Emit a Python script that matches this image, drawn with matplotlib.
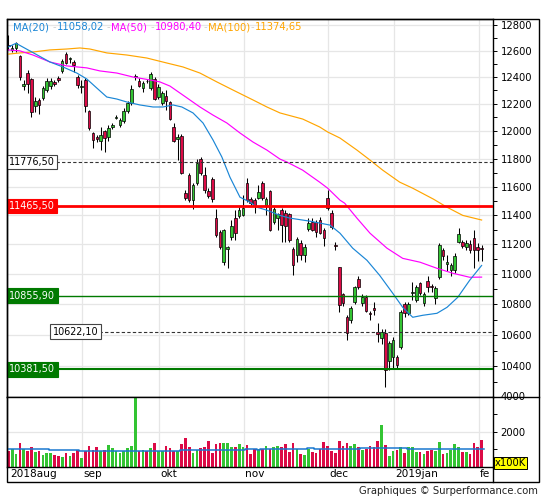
import matplotlib
matplotlib.use("Agg")
import matplotlib.pyplot as plt
import pandas as pd
from matplotlib.ticker import FixedLocator, NullFormatter, FuncFormatter
from matplotlib.transforms import Bbox, TransformedBbox, blended_transform_factory
from matplotlib.lines import Line2D
from matplotlib.patches import Rectangle

# daily candles, index 0 = 2018-08-07
opens = [12645, 12610, 12620, 12561, 12335, 12431, 12386, 12184, 12229, 12244,
         12303, 12333, 12360, 12390, 12447, 12575, 12538, 12515, 12401, 12325,
         12379, 12147, 11986, 11955, 11927, 12000, 11956, 12030, 12095, 12044,
         12074, 12147, 12207, 12400, 12371, 12318, 12371, 12318, 12386, 12251,
         12207, 12259, 12214, 12030, 11945, 11964, 11555, 11682, 11506, 11626,
         11797, 11682, 11569, 11654, 11381, 11284, 11080, 11168, 11250, 11381,
         11395, 11400, 11626, 11513, 11506, 11520, 11626, 11471, 11570, 11353,
         11381, 11436, 11415, 11409, 11168, 11127, 11209, 11127, 11305, 11353,
         11353, 11367, 11298, 11520, 11415, 11195, 11046, 10866, 10715, 10695,
         10813, 10966, 10807, 10846, 10741, 10774, 10617, 10579, 10611, 10437,
         10457, 10457, 10521, 10800, 10741, 10873, 10826, 10939, 10807, 10952,
         10919, 10840, 10979, 11161, 11066, 11026, 11026, 11215, 11215, 11181,
         11202, 11243, 11181, 11175]
highs = [12722, 12645, 12670, 12570, 12375, 12455, 12395, 12251, 12240, 12330,
         12395, 12390, 12379, 12410, 12535, 12591, 12555, 12530, 12416, 12379,
         12395, 12155, 11993, 11970, 12030, 12010, 12044, 12060, 12120, 12095,
         12170, 12225, 12341, 12424, 12390, 12371, 12386, 12440, 12400, 12345,
         12295, 12303, 12220, 12058, 11978, 11975, 11576, 11700, 11626, 11800,
         11810, 11740, 11590, 11670, 11443, 11300, 11305, 11190, 11367, 11436,
         11457, 11540, 11660, 11530, 11520, 11610, 11640, 11527, 11580, 11460,
         11420, 11450, 11436, 11420, 11181, 11250, 11230, 11200, 11380, 11380,
         11370, 11390, 11310, 11576, 11436, 11215, 11050, 10873, 10730, 10790,
         10920, 10990, 10870, 10860, 10754, 10813, 10676, 10640, 10640, 10560,
         10590, 10475, 10760, 10813, 10813, 10946, 10930, 10950, 10880, 10990,
         10935, 10920, 11210, 11175, 11130, 11075, 11140, 11312, 11230, 11230,
         11230, 11298, 11209, 11195]
lows = [12610, 12591, 12590, 12379, 12300, 12281, 12103, 12140, 12125, 12230,
        12290, 12310, 12330, 12360, 12431, 12500, 12507, 12440, 12318, 12281,
        12140, 12007, 11876, 11920, 11862, 11847, 11930, 12015, 12085, 12030,
        12060, 12130, 12192, 12379, 12325, 12290, 12355, 12303, 12229, 12236,
        12192, 12155, 12080, 11920, 11790, 11690, 11506, 11495, 11443, 11610,
        11682, 11555, 11520, 11495, 11250, 11168, 11059, 11039, 11229, 11230,
        11380, 11395, 11495, 11470, 11415, 11513, 11506, 11400, 11290, 11340,
        11298, 11215, 11215, 11215, 10992, 11080, 11093, 11080, 11290, 11290,
        11250, 11270, 11188, 11436, 11305, 11161, 10748, 10790, 10566, 10680,
        10800, 10900, 10790, 10748, 10695, 10728, 10553, 10540, 10268, 10380,
        10390, 10390, 10510, 10720, 10728, 10826, 10813, 10860, 10790, 10880,
        10880, 10800, 10966, 11093, 11020, 10990, 11010, 11209, 11175, 11160,
        11140, 11039, 11090, 11090]
closes = [12637, 12618, 12660, 12401, 12345, 12348, 12140, 12221, 12195, 12318,
          12371, 12371, 12350, 12380, 12522, 12507, 12545, 12490, 12341, 12335,
          12185, 12022, 11935, 11945, 11971, 11950, 12022, 12044, 12103, 12081,
          12147, 12207, 12311, 12405, 12333, 12355, 12368, 12424, 12236, 12325,
          12281, 12221, 12088, 11927, 11960, 11696, 11520, 11506, 11610, 11768,
          11696, 11576, 11534, 11513, 11263, 11181, 11298, 11181, 11326, 11277,
          11436, 11450, 11506, 11485, 11464, 11562, 11520, 11513, 11298, 11443,
          11409, 11333, 11326, 11229, 11059, 11236, 11127, 11181, 11346, 11298,
          11284, 11277, 11243, 11450, 11319, 11188, 10793, 10807, 10611, 10774,
          10912, 10912, 10846, 10754, 10735, 10760, 10605, 10617, 10374, 10547,
          10566, 10406, 10748, 10741, 10800, 10879, 10912, 10873, 10866, 10912,
          10912, 10906, 11195, 11120, 11080, 11059, 11120, 11270, 11188, 11209,
          11161, 11161, 11161, 11168]
volumes = [921, 1019, 745, 1333, 1019, 921, 1098, 862, 921, 647,
           764, 804, 686, 627, 568, 804, 627, 804, 960, 510,
           882, 1156, 941, 1098, 882, 980, 1215, 1039, 882, 764,
           882, 1039, 1156, 4000, 882, 980, 882, 1039, 1333, 921,
           882, 1156, 1039, 882, 882, 1274, 1627, 1098, 804, 941,
           1039, 1098, 1450, 804, 1274, 1333, 1333, 1333, 1098, 1098,
           1274, 1098, 1215, 745, 1019, 1019, 1019, 1156, 1019, 1098,
           1156, 1098, 1274, 862, 1333, 1019, 745, 686, 1019, 862,
           804, 1019, 1392, 1156, 921, 804, 1450, 1156, 1333, 1156,
           1274, 1098, 980, 1019, 1156, 1098, 1450, 2391, 1215, 627,
           921, 980, 1098, 804, 1098, 1098, 862, 862, 745, 921,
           980, 921, 1392, 745, 804, 980, 1274, 1098, 862, 862,
           745, 1333, 1098, 1509]

# moving averages (index, value)
ma20_idx = [0, 2, 6.5, 10.8, 14.2, 17.8, 20.4, 23, 25.6, 28.2, 30.8, 34.2, 37.6, 40.2,
            42.8, 45.1, 48, 50.6, 53.2, 55.5, 57.6, 60.2, 62.8, 64.6, 67.2, 70.6, 73.2,
            78.4, 83.6, 86.2, 89.5, 93.2, 96.5, 99.9, 102.5, 105.1, 107.7, 111.4, 114,
            116.8, 119.9, 123]
ma20_val = [12630, 12658, 12585, 12515, 12477, 12431, 12386, 12318, 12251, 12236, 12214,
            12192, 12177, 12177, 12192, 12177, 12133, 12059, 11935, 11812, 11668, 11527,
            11492, 11457, 11436, 11400, 11381, 11360, 11333, 11277, 11175, 11093, 10992,
            10873, 10780, 10715, 10728, 10741, 10780, 10846, 10959, 11058]
ma50_idx = [0, 3, 6.4, 10.8, 15.2, 20.4, 23.8, 28.2, 32.4, 36.8, 39.4, 42, 44.6, 47.2,
            49.8, 53.2, 56.8, 60.2, 63.6, 67.2, 70.6, 72.4, 76.5, 80.9, 83, 86.2, 87.4,
            90.6, 94, 98.4, 102.5, 107, 111.4, 115.5, 119.9, 123]
ma50_val = [12607, 12600, 12568, 12515, 12485, 12470, 12447, 12431, 12401, 12379, 12364,
            12333, 12281, 12229, 12177, 12117, 12059, 11986, 11920, 11862, 11797, 11776,
            11718, 11633, 11590, 11506, 11485, 11381, 11277, 11175, 11106, 11080, 11039,
            11006, 10979, 10980]
ma100_idx = [0, 3, 6.4, 10.8, 15.2, 18.6, 21.2, 25.6, 30.8, 36, 41.2, 45.4, 49.8, 54.2,
             58.4, 63.6, 67.2, 70.6, 76.5, 80.9, 83, 86.2, 90.6, 94, 97.3, 101.7, 105.1,
             110.5, 114, 118.1, 123]
ma100_val = [12575, 12584, 12591, 12607, 12614, 12622, 12614, 12584, 12568, 12545, 12507,
             12477, 12431, 12364, 12303, 12229, 12177, 12133, 12088, 12030, 11993, 11949,
             11862, 11790, 11718, 11633, 11590, 11513, 11457, 11400, 11368]

# volume average (step line)
vol_ma_start = [0, 11, 19, 45, 62, 65, 66, 78, 80, 92, 104]
vol_ma_val = [1019, 960, 882, 940, 1019, 960, 1019, 1078, 1019, 1058, 1000]

levels = [11776.50, 11465.50, 10855.90, 10622.10, 10381.50]
level_labels = ["11776,50", "11465,50", "10855,90", "10622,10", "10381,50"]

legend_names = ["MA(20)", "MA(50)", "MA(100)"]
legend_values = ["11058,02", "10980,40", "11374,65"]

month_labels = ["2018aug", "sep", "okt", "nov", "dec", "2019jan", "feb"]
holidays = ["2018-10-03", "2018-12-24", "2018-12-25", "2018-12-26", "2018-12-31", "2019-01-01"]
days = pd.bdate_range("2018-08-07", "2019-02-04")
days = days[~days.isin(pd.to_datetime(holidays))]

GREEN = "#33c433"
RED = "#dc0a46"
GRID = "#e6e6e6"
C20, C50, C100 = "#1a86d6", "#ff00ff", "#ffa500"
FS = 7.2

W, H = 545, 500


def fx(px):
    return px / W


def fy(py):
    return 1 - py / H


fig = plt.figure(figsize=(W / 100, H / 100), dpi=100)
ax = fig.add_axes([fx(7), fy(396.5), fx(493) - fx(7), fy(19.3) - fy(396.5)])
axv = fig.add_axes([fx(7), fy(466.7), fx(493) - fx(7), fy(396.5) - fy(466.7)], sharex=ax)

idx = list(range(len(closes)))
month_pos = [0] + [i for i in range(1, len(days)) if days[i].month != days[i - 1].month]
up = [c >= o for o, c in zip(opens, closes)]
colors = [GREEN if u else RED for u in up]

# --- price panel
ax.set_yscale("log")
ax.set_ylim(10211, 12844)
ax.set_xlim(-0.34, 125.96)

major = list(range(10400, 12801, 200))
minor = list(range(10300, 12801, 200))
ax.yaxis.set_major_locator(FixedLocator(major))
ax.yaxis.set_minor_locator(FixedLocator(minor))
ax.yaxis.set_major_formatter(FuncFormatter(lambda v, p: f"{v:.0f}"))
ax.yaxis.set_minor_formatter(NullFormatter())
ax.yaxis.tick_right()
ax.tick_params(axis="y", which="both", length=3, width=0.7, pad=2.5, labelsize=FS)
ax.tick_params(axis="x", bottom=False, labelbottom=False)
for v in major:
    ax.axhline(v, color=GRID, lw=0.9, zorder=0)
for m in month_pos[1:]:
    ax.axvline(m + 0.2, color=GRID, lw=0.9, zorder=0)
    axv.axvline(m + 0.2, color=GRID, lw=0.9, zorder=0)

ax.plot(ma100_idx, ma100_val, color=C100, lw=0.85, zorder=4)
ax.plot(ma50_idx, ma50_val, color=C50, lw=0.85, zorder=4)
ax.plot(ma20_idx, ma20_val, color=C20, lw=0.85, zorder=4)

ax.vlines(idx, lows, highs, color="black", lw=0.75, zorder=2)
bottoms = [min(o, c) for o, c in zip(opens, closes)]
heights = [max(abs(c - o), 1) for o, c in zip(opens, closes)]
ax.bar(idx, heights, bottom=bottoms, width=0.68, color=colors, edgecolor="black",
       linewidth=0.5, zorder=3)

# horizontal levels
ax.axhline(levels[0], xmin=0.1, color="#333333", lw=0.8, dashes=(3, 2), zorder=5)
ax.axhline(levels[1], color="#ff0000", lw=2.0, zorder=5)
ax.axhline(levels[2], color="#007a00", lw=1.0, zorder=5)
ax.axhline(levels[3], xmin=0.19, color="#333333", lw=0.8, dashes=(3, 2), zorder=5)
ax.axhline(levels[4], color="#007a00", lw=1.5, zorder=5)

trans = blended_transform_factory(ax.transAxes, ax.transData)
box_styles = [("black", "white", "#444444", 0.0045),
              ("white", "#ff0000", "#ff0000", 0.0045),
              ("white", "#007a00", "#007a00", 0.0045),
              ("black", "white", "#444444", 0.0936),
              ("white", "#007a00", "#007a00", 0.0045)]
for lv, lab, (tc, fc, ec, xa) in zip(levels, level_labels, box_styles):
    ax.text(xa, lv, lab, transform=trans, ha="left", va="center", fontsize=6.9,
            color=tc, zorder=10,
            bbox=dict(boxstyle="square,pad=0.25", fc=fc, ec=ec, lw=0.8))

# legend text at top
leg_x = [12.7, 57.3, 111, 155.3, 208.3, 255]
leg_cols = [C20, C20, C50, C50, C100, C100]
leg_txt = [legend_names[0], legend_values[0], legend_names[1], legend_values[1],
           legend_names[2], legend_values[2]]
for x, t, c in zip(leg_x, leg_txt, leg_cols):
    fig.text(fx(x), fy(27), t, color=c, fontsize=FS, ha="left", va="center", zorder=12)
for x in [52.2, 106.5, 151, 203.5, 250.8]:
    fig.text(fx(x), fy(27), "-", color="#d0d0d0", fontsize=FS, ha="left", va="center")

for s in ["left", "top", "right", "bottom"]:
    ax.spines[s].set_color("black")
    ax.spines[s].set_linewidth(1.0)

# --- volume panel
axv.bar(idx, volumes, width=0.7, color=colors, linewidth=0, zorder=2)
step_x = [s - 0.5 for s in vol_ma_start] + [len(idx) - 0.5]
step_y = vol_ma_val + [vol_ma_val[-1]]
axv.step(step_x, step_y, where="post", color="#1a78d0", lw=1.1, zorder=3)
axv.set_ylim(0, 4000)
axv.yaxis.set_major_locator(FixedLocator([2000, 4000]))
axv.yaxis.set_minor_locator(FixedLocator([1000, 3000]))
axv.yaxis.set_major_formatter(FuncFormatter(lambda v, p: f"{v:.0f}"))
axv.yaxis.tick_right()
axv.tick_params(axis="y", which="both", length=3, width=0.7, pad=2.5, labelsize=FS)
axv.tick_params(axis="x", bottom=False, labelbottom=False)
axv.axhline(2000, color=GRID, lw=0.9, zorder=0)
for s in ["left", "top", "right", "bottom"]:
    axv.spines[s].set_color("black")
    axv.spines[s].set_linewidth(1.0)

# month labels below the volume panel
vtrans = blended_transform_factory(axv.transData, axv.transAxes)
clip = TransformedBbox(Bbox([[fx(7), 0], [fx(490), 1]]), fig.transFigure)
for m, lab in zip(month_pos, month_labels):
    t = axv.text(m + 0.5, -0.152, lab, transform=vtrans, ha="left", va="baseline",
                 fontsize=7.6, color="black", clip_on=True)
    t.set_clip_box(clip)

fig.text(fx(495), fy(463), "x100K", fontsize=FS, ha="left", va="center",
         bbox=dict(boxstyle="square,pad=0.12", fc="#ffff00", ec="black", lw=0.7))

# outer frame
fig.patches.append(Rectangle((fx(6.7), fy(482)), fx(539) - fx(6.7), fy(19.3) - fy(482),
                             transform=fig.transFigure, fill=False, ec="black", lw=1.0))
fig.lines.append(Line2D([fx(493), fx(539)], [fy(396.5), fy(396.5)],
                        transform=fig.transFigure, color="black", lw=1.0))
fig.lines.append(Line2D([fx(493), fx(493)], [fy(466.7), fy(482)],
                        transform=fig.transFigure, color="black", lw=1.0))

fig.text(fx(537.7), fy(491), "Graphiques \u00a9 Surperformance.com", fontsize=FS,
         ha="right", va="center", color="#222222")

fig.savefig("out.png", dpi=100)
